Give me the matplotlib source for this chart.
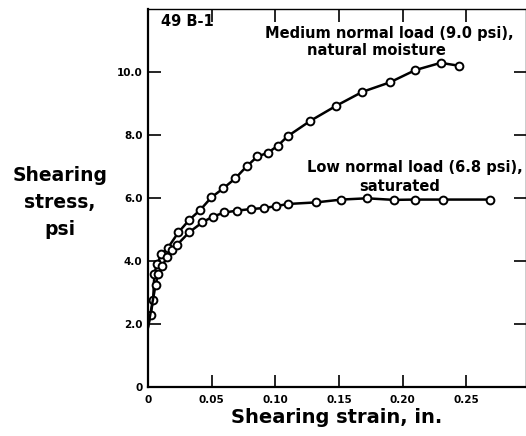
import matplotlib
matplotlib.use("Agg")
import matplotlib.pyplot as plt

# Medium normal load (9.0 psi), natural moisture
medium_x = [0.0, 0.002, 0.004, 0.005, 0.007, 0.0105, 0.0157, 0.0239, 0.0323, 0.041,
            0.0498, 0.0593, 0.0685, 0.0774, 0.086, 0.094, 0.102, 0.1097, 0.1276,
            0.148, 0.1685, 0.190, 0.210, 0.230, 0.244]
medium_y = [1.9, 2.3, 2.75, 3.6, 3.9, 4.21, 4.42, 4.91, 5.30, 5.62,
            6.02, 6.31, 6.62, 7.0, 7.32, 7.43, 7.66, 7.96, 8.45,
            8.93, 9.37, 9.67, 10.06, 10.29, 10.2]

# Low normal load (6.8 psi), saturated
low_x = [0.0, 0.006, 0.008, 0.0113, 0.0152, 0.019, 0.023, 0.0323, 0.0428, 0.051,
         0.060, 0.0703, 0.081, 0.091, 0.1005, 0.110, 0.132, 0.152, 0.172,
         0.193, 0.210, 0.232, 0.269]
low_y = [1.9, 3.25, 3.59, 3.85, 4.14, 4.35, 4.52, 4.91, 5.23, 5.41,
         5.54, 5.60, 5.65, 5.68, 5.74, 5.81, 5.86, 5.95, 5.99,
         5.94, 5.95, 5.95, 5.95]

x_ticks = [0, 0.05, 0.10, 0.15, 0.20, 0.25]
x_tick_labels = ["0", "0.05", "0.10", "0.15", "0.20", "0.25"]
y_ticks = [0, 2, 4, 6, 8, 10]
y_tick_labels = ["0", "2.0", "4.0", "6.0", "8.0", "10.0"]

plt.rcParams['font.family'] = ['DejaVu Sans']

fig = plt.figure(figsize=(5.26, 4.36), dpi=100)
ax = fig.add_axes([0.2814, 0.1124, 0.7186, 0.8670])

style = dict(color='black', lw=1.8, marker='o', markersize=5.6,
             markerfacecolor='white', markeredgecolor='black',
             markeredgewidth=1.4, markevery=slice(1, None))
ax.plot(medium_x, medium_y, **style)
ax.plot(low_x, low_y, **style)

ax.set_xlim(0, 0.297)
ax.set_ylim(0, 12.0)

ax.set_xticks(x_ticks)
ax.set_xticklabels(x_tick_labels, fontsize=7.5, fontweight='bold')
ax.set_yticks(y_ticks)
ax.set_yticklabels(y_tick_labels, fontsize=7.5, fontweight='bold')
ax.tick_params(axis='x', direction='in', length=9, width=1.2, pad=6,
               top=True, bottom=True)
ax.tick_params(axis='y', direction='in', length=9, width=1.2, pad=4,
               left=True, right=True)

for s in ['left', 'bottom']:
    ax.spines[s].set_linewidth(1.6)
for s in ['top', 'right']:
    ax.spines[s].set_linewidth(1.0)

ax.set_xlabel("Shearing strain, in.", fontsize=14, fontweight='bold',
              labelpad=2)
fig.text(0.114, 0.535, "Shearing\nstress,\npsi", ha='center', va='center',
         fontsize=13.5, fontweight='bold', linespacing=1.55)

ax.text(0.01, 11.6, "49 B-1", fontsize=10.5, fontweight='bold', va='center')
ax.text(0.2874, 11.21, "Medium normal load (9.0 psi),", fontsize=10.5,
        fontweight='bold', ha='right', va='center')
ax.text(0.1795, 10.67, "natural moisture", fontsize=10.5,
        fontweight='bold', ha='center', va='center')
ax.text(0.2945, 6.98, "Low normal load (6.8 psi),", fontsize=10.5,
        fontweight='bold', ha='right', va='center')
ax.text(0.198, 6.38, "saturated", fontsize=10.5,
        fontweight='bold', ha='center', va='center')

fig.savefig("out.png", dpi=100)
